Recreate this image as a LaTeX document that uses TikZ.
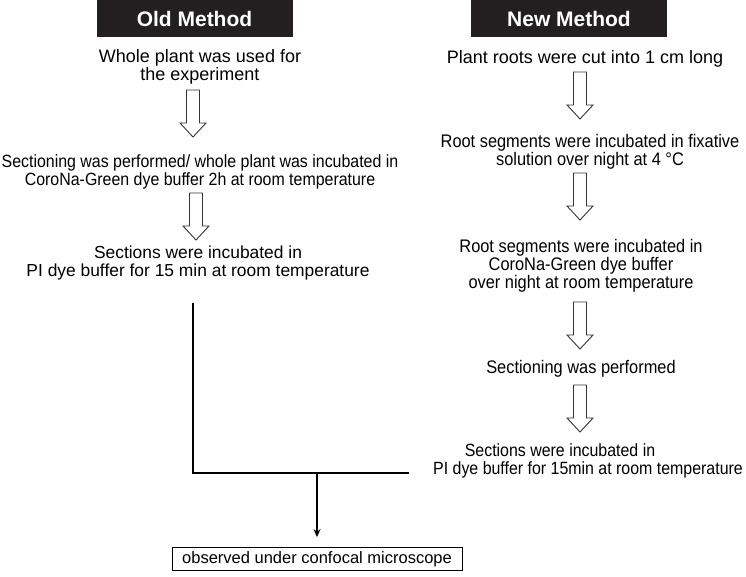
\documentclass[tikz,border=0pt]{standalone}
\usepackage{fontspec}
\setmainfont{Liberation Sans}
\newfontfamily\narrowsans{Liberation Sans}[FakeStretch=0.9]
\usetikzlibrary{arrows.meta}
\definecolor{headgray}{HTML}{231F20}
\newcommand{\hollowarrow}[2]{\draw[hollow] (#1,#2) ++(-6.5,0) -- ++(13,0) -- ++(0,33) -- ++(6.5,0) -- ++(-13,14) -- ++(-13,-14) -- ++(6.5,0) -- cycle;}

\begin{document}
\begin{tikzpicture}[x=1pt,y=-1pt,
    header/.style={fill=headgray,text=white,font=\fontsize{21}{21}\selectfont\bfseries,minimum width=196,minimum height=37,inner sep=0},
    stage/.style={align=center,font=\fontsize{#1}{18}\selectfont,inner sep=0},
    stage/.default=18,
    narrowstage/.style={align=center,font=\narrowsans\fontsize{#1}{18}\selectfont,inner sep=0},
    hollow/.style={draw=black!80,line width=0.9pt,fill=white},
    joint/.style={line width=2pt}]
            \useasboundingbox (0,0) rectangle (746,577);
            % column heads
            \node[header] (oldhead) at (194.5,18.5) {Old Method};
            \node[header] (newhead) at (569,18.5) {New Method};
            % old method
            \node[stage] (old1) at (200,67) {Whole plant was used for\\the experiment};
            \node[narrowstage=17.7] (old2) at (200,171.5) {Sectioning was performed/ whole plant was incubated in\\CoroNa-Green dye buffer 2h at room temperature};
            \node[stage=17.4] (old3) at (198,263.5) {Sections were incubated in\\PI dye buffer for 15 min at room temperature};
            \hollowarrow{193}{90}
            \hollowarrow{196}{193}
            % new method
            \node[stage] (new1) at (585,58.5) {Plant roots were cut into 1 cm long};
            \node[narrowstage=18.2] (new2) at (590,151.5) {Root segments were incubated in fixative\\solution over night at 4 °C};
            \node[narrowstage=18.2] (new3) at (581,265.5) {Root segments were incubated in\\CoroNa-Green dye buffer\\over night at room temperature};
            \node[narrowstage=18.2] (new4) at (581,368.5) {Sectioning was performed};
            \node[narrowstage=17.7] (new5) at (588,460.5) {Sections were incubated in\hspace*{56pt}\\PI dye buffer for 15min at room temperature};
            \hollowarrow{580}{72}
            \hollowarrow{580}{173}
            \hollowarrow{580}{302}
            \hollowarrow{580}{385}
            % both lead to
            \node[draw,line width=0.8pt,font=\fontsize{16.5}{16.5}\selectfont,minimum width=290,minimum height=23,inner sep=0] (result) at (317,559) {observed under confocal microscope};
            \coordinate (oldend) at (193,303);
            \coordinate (newend) at (409,473);
            \coordinate (join) at (317,473);
            \draw[joint] (oldend) |- (newend);
            \draw[joint,-{Stealth[length=8pt,width=7pt]},shorten >=10pt] (join) -- (result.north);
        \end{tikzpicture}
\end{document}
